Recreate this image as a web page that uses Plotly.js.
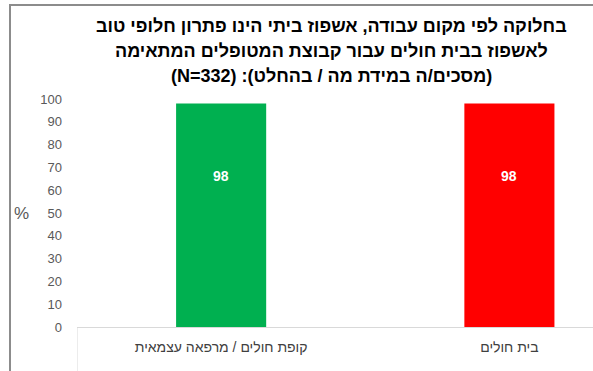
<!DOCTYPE html>
<html>
<head>
<meta charset="utf-8">
<script src="https://cdn.plot.ly/plotly-3.0.1.min.js"></script>
<style>
  html, body { margin: 0; padding: 0; background: #fff; }
  #wrap { position: relative; width: 593px; height: 371px; overflow: hidden; }
  #chart { position: absolute; left: 0; top: 0; width: 593px; height: 371px; }
  #frame { position: absolute; left: 9px; top: 4px; width: 600px; height: 400px;
           border-left: 2px solid #8c8c8c; border-top: 2px solid #8c8c8c; pointer-events: none; }
</style>
</head>
<body>
<div id="wrap">
  <div id="chart"></div>
  <div id="frame"></div>
</div>
<script>
const categories = ['קופת חולים / מרפאה עצמאית', 'בית חולים'];
const values = [98, 98];
const barColors = ['#00B050', '#FF0000'];
const titleLines = [
  'בחלוקה לפי מקום עבודה, אשפוז ביתי הינו פתרון חלופי טוב',
  'לאשפוז בבית חולים עבור קבוצת המטופלים המתאימה',
  '(מסכים/ה במידת מה / בהחלט): (N=332)'
];
const yTicks = [0, 10, 20, 30, 40, 50, 60, 70, 80, 90, 100];
const yAxisLabel = '%';

const RLE = '\u202B', PDF = '\u202C';
const font = 'Liberation Sans, Arial, sans-serif';

const trace = {
  type: 'bar',
  x: categories,
  y: values,
  marker: { color: barColors },
  width: 0.3125,
  hoverinfo: 'none'
};

const labelAnn = categories.map((c, i) => ({
  x: c, y: values[i], xref: 'x', yref: 'y',
  text: '<b>' + values[i] + '</b>',
  showarrow: false, yshift: -72,
  font: { family: font, size: 14, color: '#ffffff' }
}));

const titleShift = [73, 48, 23];
const titleAnn = titleLines.map((s, i) => ({
  xref: 'paper', yref: 'paper', x: 0.494, y: 1,
  xanchor: 'center', yanchor: 'middle', yshift: titleShift[i],
  text: '<b>' + RLE + s + PDF + '</b>', showarrow: false,
  font: { family: font, size: 18, color: '#000000' }
}));

const layout = {
  width: 593, height: 371,
  margin: { l: 77, r: 0, t: 99, b: 44, pad: 0 },
  paper_bgcolor: '#ffffff', plot_bgcolor: '#ffffff',
  showlegend: false,
  xaxis: {
    type: 'category',
    range: [-0.5, 1.29],
    showline: true, linecolor: '#d9d9d9', linewidth: 1,
    showgrid: false, zeroline: false, ticks: '',
    tickfont: { family: font, size: 14, color: '#404040' },
    ticklabelstandoff: 7
  },
  yaxis: {
    range: [0, 100],
    tickvals: yTicks,
    showline: false, showgrid: false, zeroline: false, ticks: '',
    tickfont: { family: font, size: 13, color: '#595959' },
    ticklabelstandoff: 14
  },
  shapes: [{
    type: 'line', xref: 'x', yref: 'paper',
    x0: -0.5, x1: -0.5, y0: 0, y1: -0.2,
    line: { color: '#d9d9d9', width: 1 }
  }],
  annotations: labelAnn.concat(titleAnn).concat([{
    xref: 'paper', yref: 'paper', x: -0.108, y: 0.5,
    xanchor: 'center', yanchor: 'middle',
    text: yAxisLabel, showarrow: false,
    font: { family: font, size: 17, color: '#595959' }
  }])
};

Plotly.newPlot('chart', [trace], layout, { staticPlot: true, displayModeBar: false });
</script>
</body>
</html>
